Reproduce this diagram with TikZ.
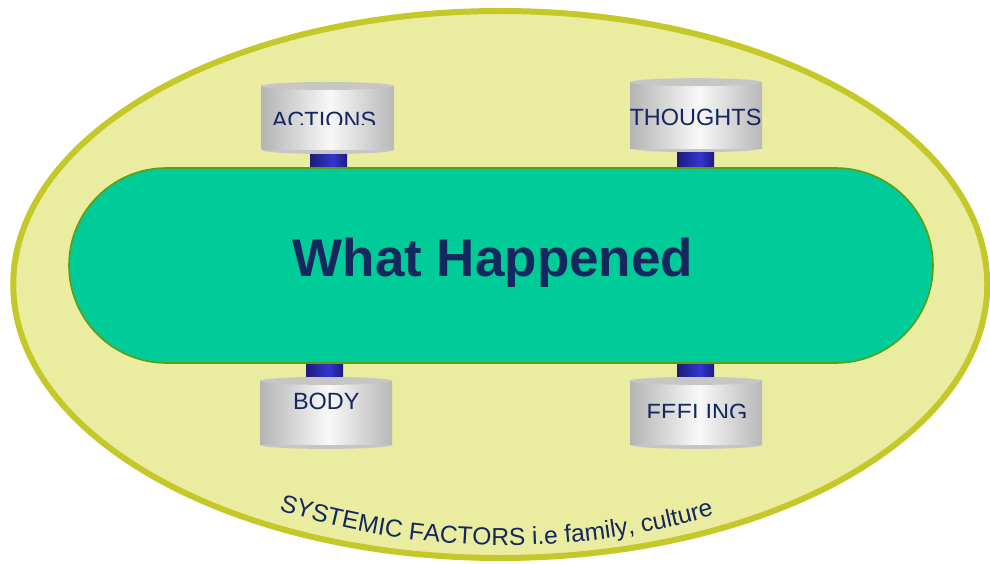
\documentclass[tikz,border=0pt]{standalone}
\usepackage{fontspec}
\setmainfont{Liberation Sans}
\usetikzlibrary{shapes.geometric,shapes.misc,decorations.text}
\definecolor{outerfill}{HTML}{EAEDA0}
\definecolor{outerline}{HTML}{C4C828}
\definecolor{stadfill}{HTML}{00CC99}
\definecolor{stadline}{HTML}{5E9E0E}
\definecolor{navy}{HTML}{14275F}
\definecolor{cylcap}{HTML}{C6C6C6}
\pgfdeclarehorizontalshading{cylbody}{100bp}{rgb(0bp)=(0.706,0.706,0.706); rgb(25bp)=(0.706,0.706,0.706); rgb(51bp)=(0.973,0.973,0.973); rgb(75bp)=(0.722,0.722,0.722); rgb(100bp)=(0.722,0.722,0.722)}
\pgfdeclarehorizontalshading{connbar}{100bp}{rgb(0bp)=(0.11,0.11,0.47); rgb(25bp)=(0.11,0.11,0.47); rgb(56bp)=(0.204,0.204,0.816); rgb(75bp)=(0.11,0.11,0.5); rgb(100bp)=(0.11,0.11,0.5)}
\begin{document}
\begin{tikzpicture}[x=1pt,y=1pt,
  outer/.style={ellipse, draw=outerline, line width=6pt, fill=outerfill, minimum width=974pt, minimum height=547pt, inner sep=0pt},
  stadium/.style={rounded rectangle, draw=stadline, line width=1.6pt, fill=stadfill, minimum width=864pt, minimum height=195pt, inner sep=0pt},
  cyl/.style={rectangle, minimum width=132pt, minimum height=#1, inner sep=0pt,
    path picture={
      \fill[cylcap] ([yshift=4pt]path picture bounding box.south) ellipse[x radius=66pt, y radius=4pt];
      \shade[shading=cylbody] ([yshift=4pt]path picture bounding box.south west) rectangle ([yshift=-4pt]path picture bounding box.north east);
      \fill[cylcap] ([yshift=-4pt]path picture bounding box.north) ellipse[x radius=66pt, y radius=4pt];
    }},
  connector/.style={shading=connbar},
  cyltext/.style={font=\fontsize{23.5}{28}\selectfont, text=navy, inner sep=0pt, anchor=base},
  maintext/.style={font=\fontsize{53}{60}\selectfont\bfseries, text=navy, inner sep=0pt, anchor=base}
]
\useasboundingbox (0,0) rectangle (990,563);
\node[outer] (sys) at (500.25,278.5) {};
\node[stadium] (what) at (501,297.5) {};
\node[cyl=72pt] (act) at (327.5,445) {};
\node[cyl=74pt] (tho) at (696,447.8) {};
\node[cyl=72pt] (bod) at (326,150.1) {};
\node[cyl=72pt] (fee) at (696,150.1) {};
% connectors
\shade[connector] ([xshift=-17.5pt]act.south) rectangle ([xshift=19.5pt,yshift=0.8pt]act.south |- what.north);
\shade[connector] ([xshift=-19pt]tho.south) rectangle ([xshift=18pt,yshift=0.8pt]tho.south |- what.north);
\shade[connector] ([xshift=-20pt]bod.north) rectangle ([xshift=17pt,yshift=-0.8pt]bod.north |- what.south);
\shade[connector] ([xshift=-19pt]fee.north) rectangle ([xshift=18pt,yshift=-0.8pt]fee.north |- what.south);
% texts
\node[maintext] (whatT) at (493,286.3) {What Happened};
\begin{scope}
  \clip (250,438) rectangle (410,470);
  \node[cyltext] (actT) at (324,434.5) {ACTIONS};
\end{scope}
\node[cyltext] (thoT) at (695.5,437.3) {THOUGHTS};
\node[cyltext] (bodT) at (326.3,154) {BODY};
\begin{scope}
  \clip (620,145.6) rectangle (780,175);
  \node[cyltext] (feeT) at (697,142.5) {FEELING};
\end{scope}
\path[decorate, decoration={text along path, text align=center,
  text={|\fontsize{24.6}{25}\selectfont\color{navy}|SYSTEMIC FACTORS i.e family, culture}}]
  (505,758) ++(244.3:740.4) arc[start angle=244.3, end angle=294.3, radius=740.4];
\end{tikzpicture}
\end{document}
